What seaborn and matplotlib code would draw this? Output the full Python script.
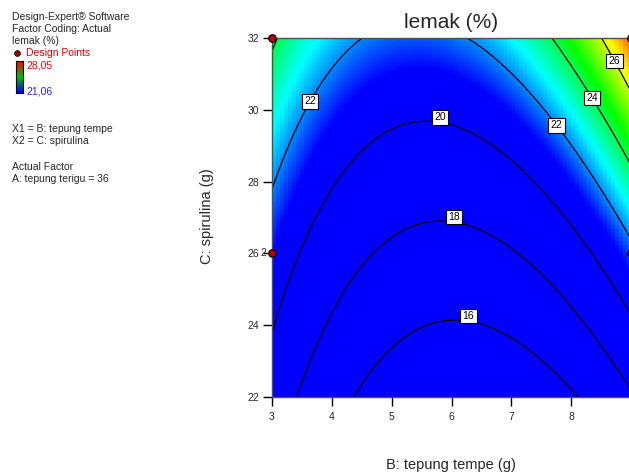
import numpy as np
import pandas as pd
import matplotlib
matplotlib.use("Agg")
import matplotlib.pyplot as plt
from matplotlib.colors import LinearSegmentedColormap, Normalize
import seaborn as sns

# Factor ranges and ticks (actual units)
b_limits = [3, 9]            # B: tepung tempe (g)
c_limits = [22, 32]          # C: spirulina (g)
b_ticks = [3, 4, 5, 6, 7, 8, 9]
c_ticks = [22, 24, 26, 28, 30, 32]

# Quadratic response-surface model for lemak (%) with A: tepung terigu = 36,
# written about the centre point B = 6, C = 27
b_center = 6.0
c_center = 27.0
coef_intercept = 18.085
coef_b = 0.164
coef_c = 0.736
coef_bb = 0.445
coef_cc = 0.0025
coef_bc = 0.0766

# Contour levels and where their labels sit (B, C)
contour_levels = [16, 18, 20, 22, 24, 26]
label_spots = [(6.3, 24.3), (6.05, 26.95), (5.81, 29.65), (3.57, 30.3),
               (7.78, 29.6), (8.37, 30.35), (8.77, 31.4)]
# labels resting on top of a flat stretch of their line
resting_labels = {"16", "18", "20"}

# Design points in this slice (replicate counts)
design_b = [3, 3, 9, 9]
design_c = [32, 26, 32, 26]
design_reps = [1, 2, 1, 1]

# Colour scale of the response
resp_low = 21.06
resp_high = 28.05
resp_low_text = "21,06"
resp_high_text = "28,05"


def lemak(b, c):
    u = b - b_center
    v = c - c_center
    return (coef_intercept + coef_b * u + coef_c * v + coef_bb * u * u
            + coef_cc * v * v + coef_bc * u * v)


sns.set_style("white")
plt.rcParams["font.family"] = ["Liberation Sans", "DejaVu Sans"]

W, H = 629, 475
fig = plt.figure(figsize=(W / 100, H / 100), dpi=100)
ax = fig.add_axes([272 / W, 78 / H, 359 / W, 359 / H])

cmap = LinearSegmentedColormap.from_list(
    "de_rainbow", ["#0000ff", "#00ffff", "#00ff00", "#ffff00", "#ff0000"])
cmap.set_under("#0000ff")
cmap.set_over("#ff0000")
norm = Normalize(vmin=resp_low, vmax=resp_high)

# Blocky colour field
n_cells = 90
be = np.linspace(b_limits[0], b_limits[1], n_cells + 1)
ce = np.linspace(c_limits[0], c_limits[1], n_cells + 1)
bc_mid = (be[:-1] + be[1:]) / 2
cc_mid = (ce[:-1] + ce[1:]) / 2
BB, CC = np.meshgrid(bc_mid, cc_mid)
ax.pcolormesh(be, ce, lemak(BB, CC), cmap=cmap, norm=norm, shading="flat")

# Smooth contour lines
bf = np.linspace(b_limits[0], b_limits[1], 500)
cf = np.linspace(c_limits[0], c_limits[1], 500)
BF, CF = np.meshgrid(bf, cf)
cs = ax.contour(BF, CF, lemak(BF, CF), levels=contour_levels,
                colors="black", linewidths=0.9)
labels = ax.clabel(cs, fmt="%d", fontsize=7.5, inline=False,
                   manual=label_spots)
for t in labels:
    t.set_rotation(0)
    if t.get_text() in resting_labels:
        t.set_verticalalignment("bottom")
    t.set_bbox(dict(boxstyle="square,pad=0.22", facecolor="white",
                    edgecolor="black", linewidth=0.8))
    t.set_zorder(5)

# Design points
pts = pd.DataFrame({"B": design_b, "C": design_c, "reps": design_reps})
sns.scatterplot(data=pts, x="B", y="C", ax=ax, s=30, color="#b00000",
                edgecolor="black", linewidth=0.8, zorder=6, clip_on=False,
                legend=False)
for b, c, r in zip(design_b, design_c, design_reps):
    if r > 1:
        ax.annotate(str(r), (b, c), xytext=(-4, 0.5), textcoords="offset points",
                    ha="right", va="center", fontsize=7.5, annotation_clip=False)

ax.set_xlim(b_limits)
ax.set_ylim(c_limits)
ax.set_xticks(b_ticks)
ax.set_yticks(c_ticks)
ax.set_xticklabels([str(t) for t in b_ticks])
ax.set_yticklabels([str(t) for t in c_ticks])
ax.tick_params(axis="both", which="major", direction="out", length=6.5,
               width=1, color="black", labelsize=7.5, bottom=True, left=True,
               top=False, right=False)
ax.tick_params(axis="x", pad=4)
ax.tick_params(axis="y", pad=3)
ax.set_xlabel("")
ax.set_ylabel("")
for sp in ax.spines.values():
    sp.set_color("#505050")
    sp.set_linewidth(1.0)

# Titles and axis names
fig.text(451.5 / W, 1 - 28 / H, "lemak (%)", ha="center", va="baseline",
         fontsize=15)
fig.text(450.5 / W, 1 - 469 / H, "B: tepung tempe (g)", ha="center",
         va="baseline", fontsize=10.5)
fig.text(207 / W, 1 - 216 / H, "C: spirulina (g)", ha="center", va="center",
         rotation=90, fontsize=10.5)

# Side notes
fs = 7.5
x0 = 12 / W
fig.text(x0, 1 - 19.5 / H, "Design-Expert® Software", fontsize=fs, va="baseline")
fig.text(x0, 1 - 32 / H, "Factor Coding: Actual", fontsize=fs, va="baseline")
fig.text(x0, 1 - 44 / H, "lemak (%)", fontsize=fs, va="baseline")
fig.text(26 / W, 1 - 56.5 / H, "Design Points", fontsize=fs, va="baseline",
         color="#e00000")
fig.add_artist(plt.Line2D([16.5 / W], [1 - 52.5 / H], marker="o", markersize=4.2,
                          markerfacecolor="#a00000", markeredgecolor="black",
                          markeredgewidth=0.5, transform=fig.transFigure))
fig.text(26 / W, 1 - 68.5 / H, resp_high_text, fontsize=fs, va="baseline",
         color="#ff0000")
fig.text(26 / W, 1 - 94 / H, resp_low_text, fontsize=fs, va="baseline",
         color="#2020ff")
cax = fig.add_axes([16 / W, 1 - 93 / H, 7 / W, 32 / H])
legend_cmap = LinearSegmentedColormap.from_list(
    "legend_bar", ["#0000ff", "#00c000", "#ff0000"])
cax.imshow(np.linspace(0, 1, 64).reshape(-1, 1), cmap=legend_cmap,
           origin="lower", aspect="auto")
cax.set_xticks([])
cax.set_yticks([])
for sp in cax.spines.values():
    sp.set_color("black")
    sp.set_linewidth(0.8)

fig.text(x0, 1 - 132 / H, "X1 = B: tepung tempe", fontsize=fs, va="baseline")
fig.text(x0, 1 - 144.5 / H, "X2 = C: spirulina", fontsize=fs, va="baseline")
fig.text(x0, 1 - 170 / H, "Actual Factor", fontsize=fs, va="baseline")
fig.text(x0, 1 - 182.5 / H, "A: tepung terigu = 36", fontsize=fs, va="baseline")

fig.savefig("out.png", dpi=100)
